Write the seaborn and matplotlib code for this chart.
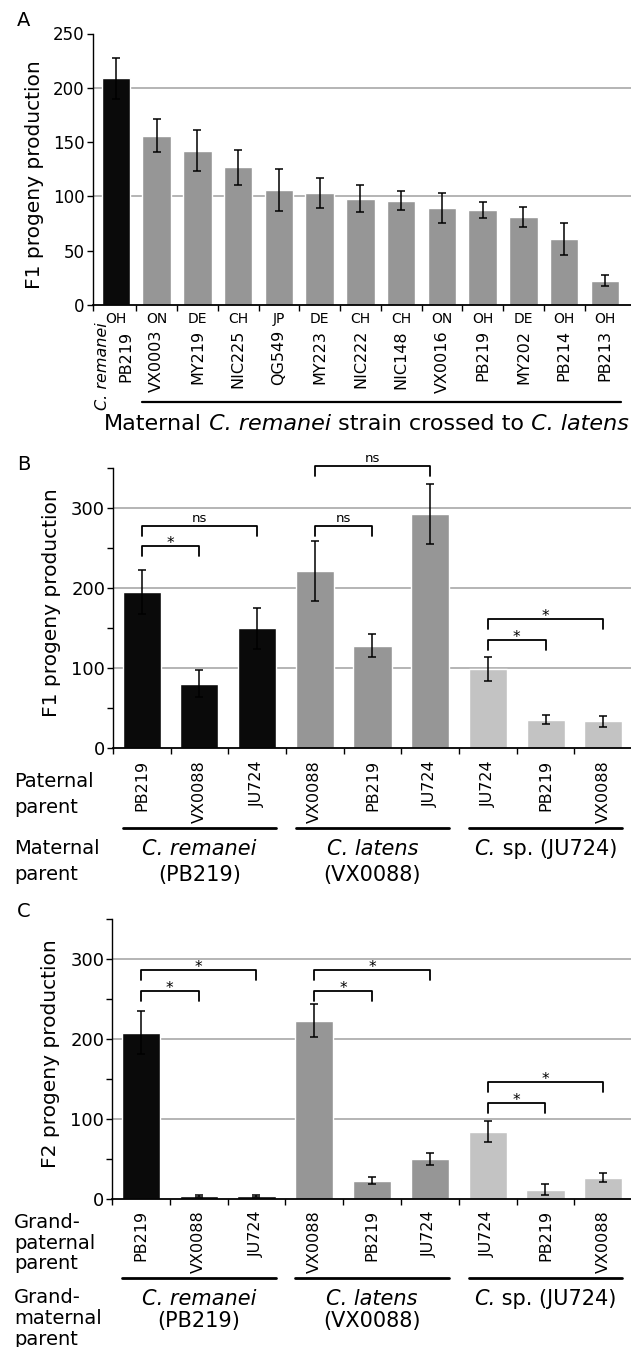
import numpy as np
import pandas as pd
import matplotlib
matplotlib.use("Agg")
import matplotlib.pyplot as plt
from matplotlib.transforms import blended_transform_factory
import seaborn as sns

sns.set_style("white")
plt.rcParams['font.family'] = ['DejaVu Sans']
plt.rcParams['text.color'] = 'black'
plt.rcParams['axes.labelcolor'] = 'black'
plt.rcParams['xtick.color'] = 'black'
plt.rcParams['ytick.color'] = 'black'

# ---- panel A data
origin_a = ["OH", "ON", "DE", "CH", "JP", "DE", "CH", "CH", "ON", "OH", "DE", "OH", "OH"]
strain_a = ["PB219", "VX0003", "MY219", "NIC225", "QG549", "MY223", "NIC222",
            "NIC148", "VX0016", "PB219", "MY202", "PB214", "PB213"]
mean_a = [208.7, 156, 142, 126.8, 106, 103.3, 97.7, 96.1, 89.3, 87.8, 80.9, 61, 22.3]
err_a = [19, 15.5, 19, 16, 19.5, 14, 12.5, 9, 14, 7.5, 9, 14.5, 5]
colors_a = ["#0a0a0a"] + ["#969696"] * 12

# ---- panels B and C data
strain_bc = ["PB219", "VX0088", "JU724", "VX0088", "PB219", "JU724", "JU724", "PB219", "VX0088"]
mean_b = [195, 80.4, 149.6, 221, 128, 292.5, 99, 35.4, 33.3]
err_b = [27, 17, 26, 37.5, 14.5, 38, 15, 6, 7]
mean_c = [208, 4, 4, 223, 23, 50.4, 84, 11.7, 26.7]
err_c = [27, 1.5, 1.5, 20.5, 4, 7.5, 13, 7, 6]
colors_bc = ["#0a0a0a"] * 3 + ["#969696"] * 3 + ["#c3c3c3"] * 3
# group label lines as (text, style) pieces
groups = [(0, 2, [("C. remanei", "italic")], [("(PB219)", "normal")]),
          (3, 5, [("C. latens", "italic")], [("(VX0088)", "normal")]),
          (6, 8, [("C.", "italic"), (" sp. (JU724)", "normal")], [])]
caption_a = [("Maternal", "normal"), (" C. remanei", "italic"),
             (" strain crossed to", "normal"), (" C. latens", "italic")]

# significance brackets: (left bar, right bar, height, label)
sig_b = [(0, 1, 252, "*"), (0, 2, 278, "ns"), (3, 4, 278, "ns"),
         (3, 5, 353, "ns"), (6, 7, 135, "*"), (6, 8, 161, "*")]
sig_c = [(0, 1, 260, "*"), (0, 2, 286, "*"), (3, 4, 260, "*"),
         (3, 5, 286, "*"), (6, 7, 120, "*"), (6, 8, 146, "*")]

W, H = 631, 1347
fig = plt.figure(figsize=(W / 100, H / 100), dpi=100)
renderer = fig.canvas.get_renderer()


def rect(left, right, top, bottom):
    return [left / W, 1 - bottom / H, (right - left) / W, (bottom - top) / H]


def fy(y):
    return 1 - y / H


def rich(x_px, y_px, parts, size, ha="center"):
    # lay out text pieces with different styles on one baseline
    texts, widths = [], []
    for s, st in parts:
        t = fig.text(0, 0, s, fontsize=size, style=st, ha="left", va="baseline")
        texts.append(t)
        widths.append(t.get_window_extent(renderer).width)
    total = sum(widths)
    x0 = {"center": x_px - total / 2, "right": x_px - total, "left": x_px}[ha]
    for t, w in zip(texts, widths):
        t.set_position((x0 / W, fy(y_px)))
        x0 += w


def bars(ax, means, errs, colors, width):
    slots = [str(i) for i in range(len(means))]
    df = pd.DataFrame({"slot": slots, "val": means})
    sns.barplot(data=df, x="slot", y="val", hue="slot", order=slots,
                palette=dict(zip(slots, colors)), legend=False, width=width,
                saturation=1, errorbar=None, ax=ax, zorder=2)
    ax.errorbar(np.arange(len(means)), means, yerr=errs, fmt="none", ecolor="black",
                elinewidth=1.1, capsize=2.6, capthick=1.1, zorder=3)
    ax.set_xlabel("")
    ax.set_ylabel("")


def style(ax, ymax, grid):
    for s in ["top", "right"]:
        ax.spines[s].set_visible(False)
    ax.spines["left"].set_color("black")
    ax.spines["bottom"].set_color("black")
    ax.spines["left"].set_linewidth(1.0)
    ax.spines["bottom"].set_linewidth(1.3)
    ax.set_ylim(0, ymax)
    for g in grid:
        ax.axhline(g, color="#a8a8a8", lw=1.2, zorder=0.5)
    ax.tick_params(axis="both", which="both", direction="out", length=4,
                   width=1, color="black", left=True, bottom=True, pad=1.5)


def brackets(ax, sigs):
    for i, j, h, lab in sigs:
        ax.plot([i, i, j, j], [h - 12.5, h, h, h - 12.5], color="black", lw=1.3,
                clip_on=False, zorder=4)
        if lab == "*":
            ax.text((i + j) / 2, h - 2, "*", ha="center", va="baseline", fontsize=11)
        else:
            ax.text((i + j) / 2, h + 5, lab, ha="center", va="baseline", fontsize=9.5)


# ================= panel A
axA = fig.add_axes(rect(92.5, 631, 33.5, 305))
bars(axA, mean_a, err_a, colors_a, 0.7)
style(axA, 250, [100, 200])
axA.set_xlim(-0.576, 12.64)
axA.set_yticks(np.arange(0, 251, 50))
axA.tick_params(axis="y", labelsize=12)
axA.set_xticks([-0.576] + [k + 0.5 for k in range(12)])
axA.set_xticklabels([])
axA.set_ylabel("F1 progeny production", fontsize=14.5)
axA.yaxis.set_label_coords(-0.09, 0.48)
trA = blended_transform_factory(axA.transData, fig.transFigure)
for k in range(13):
    axA.text(k, fy(323), origin_a[k], transform=trA, ha="center", va="baseline", fontsize=10)
    if k == 0:
        axA.text(k - 0.32, fy(322), "C. remanei", transform=trA, ha="center", va="top",
                 rotation=90, fontsize=11.5, style="italic")
        axA.text(k + 0.25, fy(331), strain_a[k], transform=trA, ha="center", va="top",
                 rotation=90, fontsize=11.5)
    else:
        axA.text(k, fy(330), strain_a[k], transform=trA, ha="center", va="top",
                 rotation=90, fontsize=11.5)
axA.plot([0.65, 12.4], [fy(402)] * 2, transform=trA, color="black", lw=1.6, clip_on=False)
rich(629, 430, caption_a, 16, ha="right")
fig.text(17 / W, fy(26), "A", ha="left", va="baseline", fontsize=14)


def panel_bc(top, bottom, left, means, errs, sigs, ylab, label_top, line_y,
             row1, row2, grp_base, letter_y, letter):
    ax = fig.add_axes(rect(left, 631, top, bottom))
    bars(ax, means, errs, colors_bc, 0.66)
    style(ax, 350, [100, 200, 300])
    ax.set_xlim(-0.5, 8.48)
    ax.set_yticks([0, 100, 200, 300])
    ax.set_yticks([50, 150, 250, 350], minor=True)
    ax.tick_params(axis="y", labelsize=13)
    ax.set_xticks([k - 0.5 for k in range(9)])
    ax.set_xticklabels([])
    ax.set_ylabel(ylab, fontsize=14.5)
    ax.yaxis.set_label_coords(-0.1, 0.52)
    brackets(ax, sigs)
    tr = blended_transform_factory(ax.transData, fig.transFigure)
    for k in range(9):
        ax.text(k, fy(label_top), strain_bc[k], transform=tr, ha="center", va="top",
                rotation=90, fontsize=11.5)
    for i, j, g1, g2 in groups:
        ax.plot([i - 0.33, j + 0.33], [fy(line_y)] * 2, transform=tr, color="black",
                lw=2, clip_on=False)
        xc = ax.transData.transform(((i + j) / 2, 0))[0]
        rich(xc, grp_base[0], g1, 15)
        if g2:
            rich(xc, grp_base[1], g2, 15)
    for txt, yb in row1 + row2:
        fig.text(14 / W, fy(yb), txt, ha="left", va="baseline", fontsize=14)
    fig.text(17 / W, fy(letter_y), letter, ha="left", va="baseline", fontsize=14)
    return ax


panel_bc(468, 748, 112.8, mean_b, err_b, sig_b, "F1 progeny production", 760, 828,
         [("Paternal", 787), ("parent", 813)], [("Maternal", 854), ("parent", 880)],
         (855, 881), 470, "B")
panel_bc(919, 1199, 112, mean_c, err_c, sig_c, "F2 progeny production", 1210, 1278,
         [("Grand-", 1228), ("paternal", 1249), ("parent", 1269)],
         [("Grand-", 1303), ("maternal", 1324), ("parent", 1345)],
         (1305, 1327), 917, "C")

fig.savefig("out.png", dpi=100)
